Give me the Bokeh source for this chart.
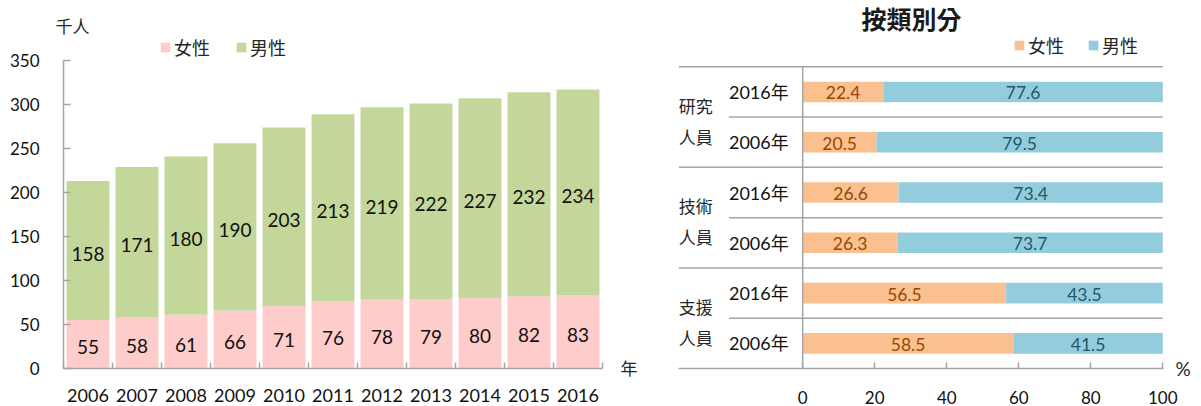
from bokeh.plotting import figure
from bokeh.models import (Range1d, FixedTicker, Legend, LegendItem, ColumnDataSource,
                          LinearAxis, Title)
from bokeh.layouts import row
from bokeh.embed import file_html
from bokeh.resources import INLINE
from bokeh.core.properties import value

# ---------------- data ----------------
years = [2006, 2007, 2008, 2009, 2010, 2011, 2012, 2013, 2014, 2015, 2016]
female_k = [55, 58, 61, 66, 71, 76, 78, 79, 80, 82, 83]
male_k = [158, 171, 180, 190, 203, 213, 219, 222, 227, 232, 234]
left_y_ticks = [0, 50, 100, 150, 200, 250, 300, 350]

groups = ["研究人員", "技術人員", "支援人員"]
group_years = ["2016年", "2006年"]
female_pct = [22.4, 20.5, 26.6, 26.3, 56.5, 58.5]
male_pct = [77.6, 79.5, 73.4, 73.7, 43.5, 41.5]
right_x_ticks = [0, 20, 40, 60, 80, 100]

# ---------------- styles ----------------
PINK = "#FFCCCC"
GREEN = "#C4D79B"
ORANGE = "#FAC090"
BLUE = "#93CDDD"
AXIS = "#A6A6A6"
TXT = "#111111"
NUM_FONT = "Lato, Noto Sans CJK TC"
CJK_FONT = "Noto Sans CJK TC"


def unit_axis(label, standoff, size):
    """A side axis that carries a single unit text at the zero level."""
    ax = LinearAxis(ticker=FixedTicker(ticks=[0]), major_label_overrides={0: label})
    ax.axis_line_color = None
    ax.major_tick_line_color = None
    ax.minor_tick_line_color = None
    ax.major_label_standoff = standoff
    ax.major_label_text_font = NUM_FONT
    ax.major_label_text_font_size = size
    ax.major_label_text_color = "#262626"
    return ax


# ================= left chart =================
Y_MAX = 350
L_TOP, L_BOTTOM = 32, 368        # frame top / x-axis position (px)
AXIS_TOP = 60                    # where the value 350 sits (px)
p1 = figure(width=640, height=406, output_backend="svg", toolbar_location=None,
            x_range=Range1d(years[0] - 0.5, years[-1] + 0.5),
            y_range=Range1d(0, Y_MAX * (L_BOTTOM - L_TOP) / (L_BOTTOM - AXIS_TOP)),
            min_border_left=63, min_border_right=33, min_border_top=L_TOP,
            min_border_bottom=406 - L_BOTTOM)
p1.outline_line_color = None
p1.grid.visible = False

tot = [f + m for f, m in zip(female_k, male_k)]
src1 = ColumnDataSource(dict(
    x=years, f=female_k, m=male_k, tot=tot,
    fc=[f / 2 for f in female_k], mc=[f + m / 2 for f, m in zip(female_k, male_k)],
    ft=[str(v) for v in female_k], mt=[str(v) for v in male_k]))

rf = p1.vbar(x="x", bottom=0, top="f", width=0.876, fill_color=PINK, line_color=None, source=src1)
rm = p1.vbar(x="x", bottom="f", top="tot", width=0.876, fill_color=GREEN, line_color=None, source=src1)

for col, txt in (("fc", "ft"), ("mc", "mt")):
    p1.text(x="x", y=col, text=txt, source=src1, text_align="center", text_baseline="middle",
            text_font=value(NUM_FONT), text_font_size="19px", text_color=TXT, y_offset=3)

xa = p1.xaxis[0]
xa.ticker = FixedTicker(ticks=years, minor_ticks=[y - 0.5 for y in years] + [years[-1] + 0.5])
xa.major_tick_in = 0
xa.major_tick_out = 0
xa.minor_tick_in = 6
xa.minor_tick_out = 0
xa.minor_tick_line_color = AXIS
xa.minor_tick_line_width = 1.5
xa.axis_line_color = AXIS
xa.axis_line_width = 1.5
xa.major_label_text_font = NUM_FONT
xa.major_label_text_font_size = "18px"
xa.major_label_text_color = TXT
xa.major_label_standoff = 20

ya = p1.yaxis[0]
ya.ticker = FixedTicker(ticks=left_y_ticks)
ya.bounds = (0, Y_MAX)
ya.major_tick_in = 7
ya.major_tick_out = 0
ya.major_tick_line_color = AXIS
ya.major_tick_line_width = 1.5
ya.minor_tick_line_color = None
ya.axis_line_color = AXIS
ya.axis_line_width = 1.5
ya.major_label_text_font = NUM_FONT
ya.major_label_text_font_size = "17px"
ya.major_label_text_color = TXT
ya.major_label_standoff = 24

p1.add_layout(unit_axis("年", 12, "17px"), "right")

leg1 = Legend(items=[LegendItem(label="女性", renderers=[rf]), LegendItem(label="男性", renderers=[rm])],
              orientation="horizontal", location=(96, L_BOTTOM - 60), glyph_width=12, glyph_height=12,
              label_height=12, label_text_font=CJK_FONT, label_text_font_size="18px",
              label_text_color="#262626", label_standoff=3, spacing=25, padding=0, margin=0,
              border_line_color=None, background_fill_alpha=0)
p1.add_layout(leg1, "center")

p1.title = Title(text="千人", align="left", offset=-8, standoff=-11,
                 text_font=CJK_FONT, text_font_size="17px", text_font_style="normal",
                 text_color="#262626")

# ================= right chart =================
n_rows = len(female_pct)
x_left = -34.5
x_inner = -20.5
ROW_PX = 51.63
R_TOP, R_BOTTOM = 28, 373
p2 = figure(width=561, height=406, output_backend="svg", toolbar_location=None,
            x_range=Range1d(x_left, 100.2), y_range=Range1d(0, (R_BOTTOM - R_TOP) / ROW_PX),
            min_border_left=38, min_border_right=38, min_border_top=R_TOP,
            min_border_bottom=406 - R_BOTTOM)
p2.outline_line_color = None
p2.grid.visible = False
p2.yaxis.visible = False

row_y = [n_rows - i - 0.5 for i in range(n_rows)]
row_lbl = [group_years[i % 2] for i in range(n_rows)]
src2 = ColumnDataSource(dict(
    y=row_y, f=female_pct, tot=[f + m for f, m in zip(female_pct, male_pct)],
    fc=[f / 2 for f in female_pct], mc=[f + m / 2 for f, m in zip(female_pct, male_pct)],
    ft=[f"{v:.1f}" for v in female_pct], mt=[f"{v:.1f}" for v in male_pct], lbl=row_lbl))

rf2 = p2.hbar(y="y", left=0, right="f", height=0.41, fill_color=ORANGE, line_color=None, source=src2)
rm2 = p2.hbar(y="y", left="f", right="tot", height=0.41, fill_color=BLUE, line_color=None, source=src2)

p2.text(x="fc", y="y", text="ft", source=src2, text_align="center", text_baseline="middle",
        text_font=value(NUM_FONT), text_font_size="17.5px", text_color="#974706", y_offset=1)
p2.text(x="mc", y="y", text="mt", source=src2, text_align="center", text_baseline="middle",
        text_font=value(NUM_FONT), text_font_size="17.5px", text_color="#245868", y_offset=1)

# year labels
p2.text(x=[0] * n_rows, y=row_y, text=row_lbl, text_align="right", text_baseline="middle",
        x_offset=-14, text_font=value(NUM_FONT), text_font_size="18px", text_color=TXT)

# separators
grp_y = [n_rows - 2 * g for g in range(len(groups))]
inner_y = [n_rows - 2 * g - 1 for g in range(len(groups))]
p2.segment(x0=[x_left] * len(grp_y), x1=[100] * len(grp_y), y0=grp_y, y1=grp_y,
           line_color=AXIS, line_width=1.5)
p2.segment(x0=[x_inner] * len(inner_y), x1=[100] * len(inner_y), y0=inner_y, y1=inner_y,
           line_color=AXIS, line_width=1.5)
p2.segment(x0=[0], x1=[0], y0=[0], y1=[n_rows], line_color=AXIS, line_width=1.5)

# group labels (two lines each)
g_center = [n_rows - 2 * g - 1 for g in range(len(groups))]
p2.text(x=[0] * len(groups), y=g_center, text=[g[:2] for g in groups], x_offset=-107, y_offset=-12,
        text_align="center", text_baseline="middle", text_font=value(CJK_FONT),
        text_font_size="17px", text_color="#262626")
p2.text(x=[0] * len(groups), y=g_center, text=[g[2:] for g in groups], x_offset=-107, y_offset=19,
        text_align="center", text_baseline="middle", text_font=value(CJK_FONT),
        text_font_size="17px", text_color="#262626")

xa2 = p2.xaxis[0]
xa2.ticker = FixedTicker(ticks=right_x_ticks)
xa2.major_tick_in = 6
xa2.major_tick_out = 0
xa2.major_tick_line_color = AXIS
xa2.major_tick_line_width = 1.5
xa2.minor_tick_line_color = None
xa2.axis_line_color = AXIS
xa2.axis_line_width = 1.5
xa2.major_label_text_font = NUM_FONT
xa2.major_label_text_font_size = "17px"
xa2.major_label_text_color = TXT
xa2.major_label_standoff = 22

p2.add_layout(unit_axis("%", 6, "19px"), "right")

leg2 = Legend(items=[LegendItem(label="女性", renderers=[rf2]), LegendItem(label="男性", renderers=[rm2])],
              orientation="horizontal", location=(335, R_BOTTOM - 63), glyph_width=12, glyph_height=12,
              label_height=12, label_text_font=CJK_FONT, label_text_font_size="18px",
              label_text_color="#262626", label_standoff=3, spacing=23, padding=0, margin=0,
              border_line_color=None, background_fill_alpha=0)
p2.add_layout(leg2, "center")

p2.title = Title(text="按類別分", align="left", offset=183, standoff=-7,
                 text_font=CJK_FONT, text_font_size="25px", text_font_style="bold",
                 text_color="#1a1a1a")

layout = row(p1, p2)
open("out.html", "w").write(file_html(layout, INLINE))
